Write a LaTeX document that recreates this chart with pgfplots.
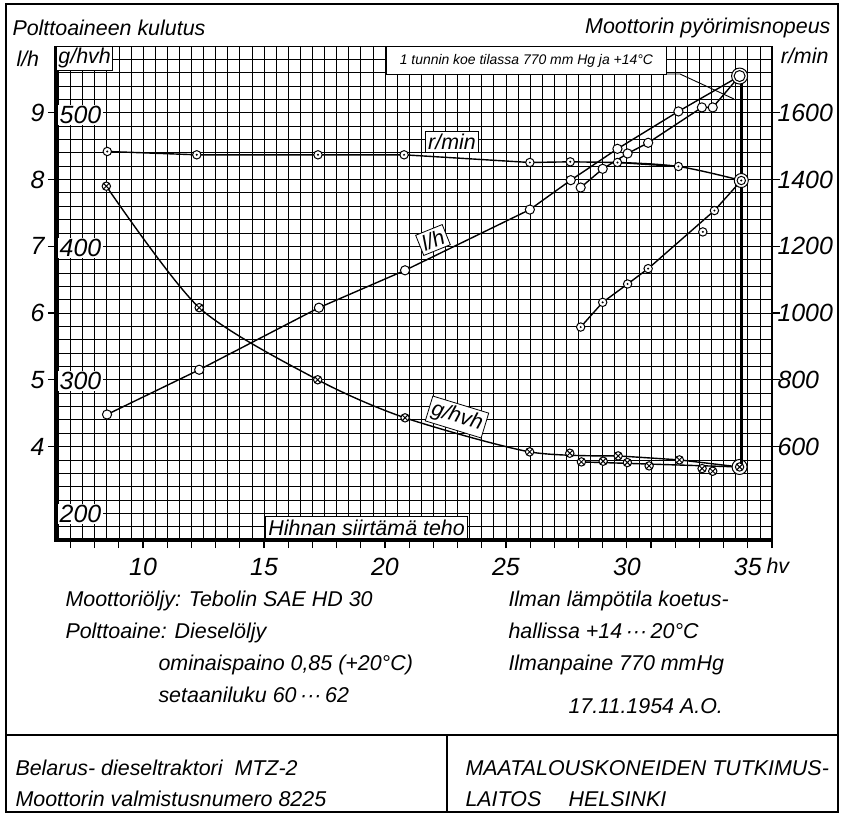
\documentclass[border=0pt]{standalone}
\usepackage{fontspec}
\setmainfont{Liberation Sans}
\usepackage{pgfplots}
\pgfplotsset{compat=1.18}

% circle with a dot in the middle (r/min points)
\pgfdeclareplotmark{dotcirc}{%
  \pgfpathcircle{\pgfpointorigin}{\pgfplotmarksize}%
  \pgfusepathqfillstroke
  \begin{pgfscope}%
    \pgfsetfillcolor{black}%
    \pgfpathcircle{\pgfpointorigin}{1.1pt}%
    \pgfusepathqfill
  \end{pgfscope}%
}

\newcommand{\tfont}{\fontsize{21.5}{24}\selectfont\itshape}
\newcommand{\nfont}{\fontsize{25}{28}\selectfont\itshape}
\newcommand{\sfont}{\fontsize{14}{16}\selectfont\itshape}

\pgfplotsset{
  base/.style={at={(0,0)}, anchor=south west, scale only axis,
    width=716bp, height=494bp, xmin=6.4, xmax=36,
    axis line style={draw=none},
    /pgf/number format/assume math mode=true,
    /pgf/number format/1000 sep={},
    ticklabel style={font=\nfont},
    tick style={black, line width=1.2bp},
    major tick length=8bp, minor tick length=8bp, tick align=outside},
  ln/.style={black, line width=1.4bp},
}

\begin{document}
\begin{tikzpicture}
% page: 844 x 815 bp, axis box lower left at (56,275)
\useasboundingbox (-56bp,-275bp) rectangle (788bp,540bp);

% grid
\begin{axis}[base, name=grid, ymin=180, ymax=550,
  xtick={6.5,7,...,36}, ytick={180,190,...,550},
  xticklabels={}, yticklabels={}, major tick length=0pt,
  xmajorgrids, ymajorgrids, grid style={black, line width=0.75bp}]
\end{axis}

% g/hvh and the power axis
\begin{axis}[base, ymin=180, ymax=550,
  xtick={10,15,...,35}, minor xtick={7,...,36}, xtick pos=bottom,
  xticklabel style={yshift=-7bp},
  ytick=\empty]
\addplot[ln, smooth, tension=0.45] coordinates {
  (8.48,445) (12.32,354) (17.22,300) (20.83,271.5) (25.98,246) (29.64,243)};
\addplot[ln] coordinates {(29.64,243) (32.17,240) (34.66,234.7)};
\addplot[ln] coordinates {(28.12,238.5) (34.66,234.7)};
\addplot[only marks, mark=otimes*, mark size=4.2bp, mark options={fill=white, line width=1bp}]
  coordinates {
  (8.48,445) (12.32,354) (17.22,300) (20.83,271.5) (25.98,246)
  (27.64,245) (29.64,243) (32.17,240)
  (28.12,238.5) (29.02,239) (30.02,238) (30.92,235.5) (33.11,233.5) (33.55,231.5)};
\addplot[only marks, mark=*, mark size=7.5bp, mark options={fill=white, line width=1bp}]
  coordinates {(34.66,234.7)};
\addplot[only marks, mark=otimes*, mark size=4.2bp, mark options={fill=white, line width=1bp}]
  coordinates {(34.66,234.7)};
\end{axis}

% l/h
\begin{axis}[base, ymin=2.6, ymax=10, xtick=\empty,
  ytick={4,...,9}, ytick pos=left]
\addplot[black, line width=2.6bp] coordinates {(34.75,9.45) (34.75,3.74)};
\addplot[ln, mark=*, mark size=4.6bp, mark options={fill=white, line width=1bp}]
  coordinates {
  (8.51,4.48) (12.32,5.15) (17.27,6.08) (20.83,6.64) (25.99,7.55)
  (27.68,7.99) (29.61,8.46) (32.13,9.02)};
\addplot[ln, mark=*, mark size=4.6bp, mark options={fill=white, line width=1bp}]
  coordinates {
  (28.09,7.88) (29.0,8.16) (30.03,8.39) (30.88,8.55) (33.1,9.08) (33.55,9.08)};
\addplot[ln] coordinates {(32.13,9.02) (34.66,9.55)};
\addplot[ln] coordinates {(33.55,9.08) (34.66,9.55)};
\addplot[only marks, mark=*, mark size=8bp, mark options={fill=white, line width=1bp}]
  coordinates {(34.66,9.55)};
\addplot[only marks, mark=*, mark size=5.5bp, mark options={fill=white, line width=1bp}]
  coordinates {(34.66,9.55)};
\end{axis}

% r/min
\begin{axis}[base, ymin=320, ymax=1800, xtick=\empty,
  ytick={600,800,...,1600}, ytick pos=right, yticklabel pos=right,
  yticklabel style={xshift=-6bp}]
\addplot[ln, mark=dotcirc, mark size=4.2bp, mark options={fill=white, line width=1bp}]
  coordinates {
  (8.52,1484) (12.22,1474) (17.23,1474) (20.79,1474) (25.99,1451)
  (27.66,1453) (29.61,1451) (32.13,1439)};
\addplot[ln, smooth, tension=0.6] coordinates {(29.61,1451) (32.13,1439) (34.73,1397)};
\addplot[ln, mark=dotcirc, mark size=4.2bp, mark options={fill=white, line width=1bp}]
  coordinates {
  (28.09,958) (29.0,1032) (30.03,1087) (30.88,1133) (33.62,1307)};
\addplot[ln] coordinates {(33.62,1307) (34.73,1397)};
\addplot[only marks, mark=dotcirc, mark size=4.2bp, mark options={fill=white, line width=1bp}]
  coordinates {(33.14,1243)};
\addplot[only marks, mark=*, mark size=7bp, mark options={fill=white, line width=1bp}]
  coordinates {(34.73,1397)};
\addplot[only marks, mark=dotcirc, mark size=4.2bp, mark options={fill=white, line width=1bp}]
  coordinates {(34.73,1397)};
\end{axis}

% axis frame
\draw[line width=3bp] (grid.north west) -- (grid.south west) -- (grid.south east);
\draw[line width=2bp] (grid.south east) -- (grid.north east);

\begin{scope}[x=1bp, y=1bp, shift={(-56bp,-275bp)}]
% left scale labels inside the grid
\foreach \v/\y in {500/115,400/248,300/381,200/514}
  \node[anchor=west, fill=white, inner sep=1.5bp, font=\nfont] at (58,815-\y) {\v};
\node[anchor=north west, draw, fill=white, inner sep=2bp, line width=0.8bp, font=\tfont]
  at (56,769) {g/hvh};

% curve names
\node[draw, fill=white, line width=0.8bp, inner sep=3bp, font=\tfont] at (452,673) {r/min};
\node[draw, fill=white, line width=0.8bp, inner sep=3bp, rotate=22, font=\tfont] at (433,575) {l/h};
\node[draw, fill=white, line width=0.8bp, inner sep=3bp, rotate=-17, font=\tfont] at (457,398) {g/hvh};
\node[draw, fill=white, line width=0.8bp, anchor=south west, inner sep=3bp, font=\tfont]
  at (265,276) {Hihnan siirtämä teho};

% note on the test
\node[draw, fill=white, line width=0.8bp, anchor=north west, minimum width=280bp,
  minimum height=28bp, inner sep=3bp, font=\sfont] at (386,769) {1 tunnin koe tilassa 770 mm Hg ja +14°C};
\draw[line width=0.9bp] (666,741) -- (680,741) -- (734,716);

% headings
\node[anchor=base west, font=\tfont] at (9,780) {Polttoaineen kulutus};
\node[anchor=base east, font=\tfont] at (834,782) {Moottorin pyörimisnopeus};
\node[anchor=base west, font=\tfont] at (13,749) {l/h};
\node[anchor=base east, font=\tfont] at (832,752) {r/min};
\node[anchor=base west, font=\tfont] at (763,242) {hv};

% test notes
\node[anchor=base west, font=\tfont] at (62,209) {Moottoriöljy: Tebolin SAE HD 30};
\node[anchor=base west, font=\tfont] at (62,177) {Polttoaine: Dieselöljy};
\node[anchor=base west, font=\tfont] at (155,145) {ominaispaino 0,85 (+20°C)};
\node[anchor=base west, font=\tfont] at (155,113) {setaaniluku 60\,···\,62};
\node[anchor=base west, font=\tfont] at (505,209) {Ilman lämpötila koetus-};
\node[anchor=base west, font=\tfont] at (505,177) {hallissa +14\,···\,20°C};
\node[anchor=base west, font=\tfont] at (505,145) {Ilmanpaine 770 mmHg};
\node[anchor=base west, font=\tfont] at (565,102) {17.11.1954 A.O.};

% title block
\draw[line width=2bp] (6,3) rectangle (838,811);
\draw[line width=2bp] (6,80) -- (838,80);
\draw[line width=2bp] (447,3) -- (447,80);
\node[anchor=base west, font=\tfont] at (12,40) {Belarus- dieseltraktori \ MTZ-2};
\node[anchor=base west, font=\tfont] at (12,9) {Moottorin valmistusnumero 8225};
\node[anchor=base west, font=\tfont] at (462,40) {MAATALOUSKONEIDEN TUTKIMUS-};
\node[anchor=base west, font=\tfont] at (462,9) {LAITOS \quad HELSINKI};
\end{scope}
\end{tikzpicture}
\end{document}
